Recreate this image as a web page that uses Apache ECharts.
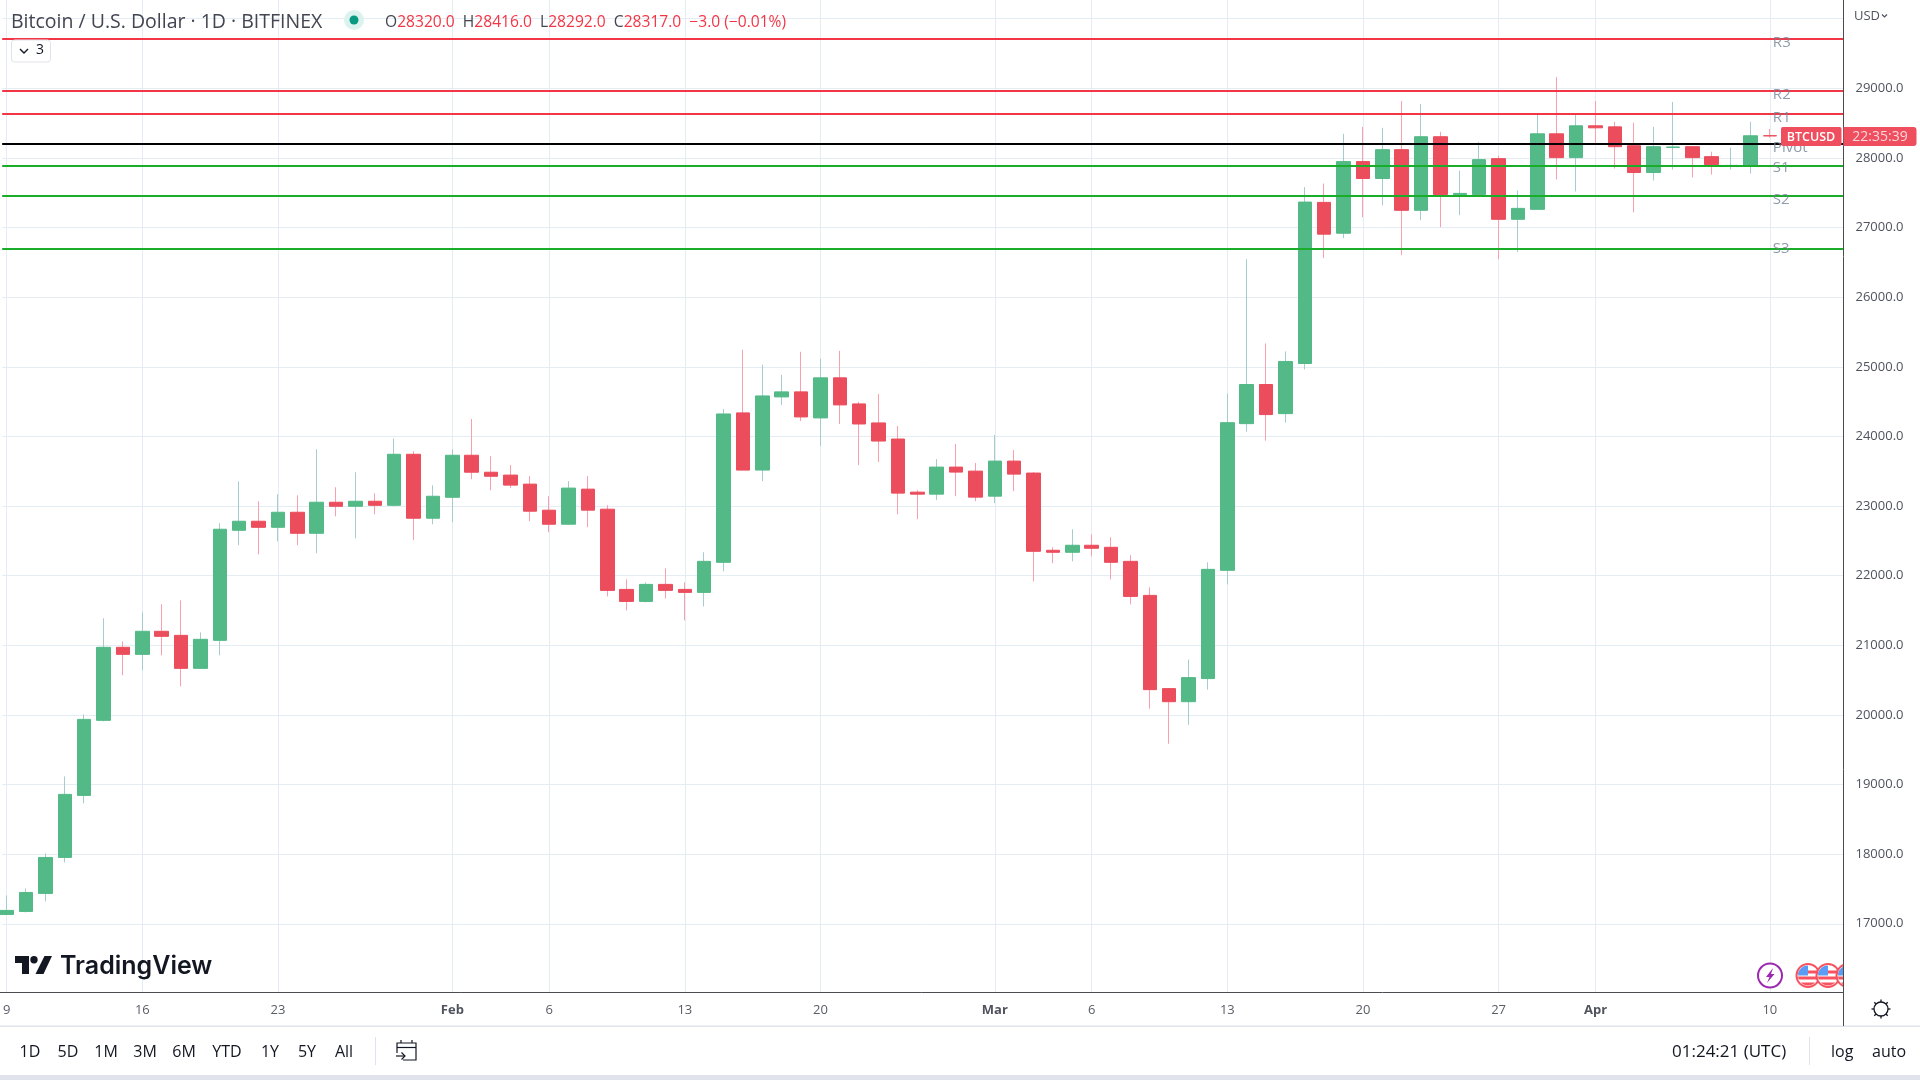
<!DOCTYPE html>
<html>
<head>
<meta charset="utf-8">
<title>BTCUSD</title>
<style>html,body{margin:0;padding:0;background:#fff;width:100%;height:100%;overflow:hidden}#c{width:1920px;height:1080px}</style>
<script src="https://cdn.jsdelivr.net/npm/echarts@6/dist/echarts.min.js"></script>
</head>
<body>
<div id="c"></div>
<script>
const dates = ['2023-01-09','2023-01-10','2023-01-11','2023-01-12','2023-01-13','2023-01-14','2023-01-15','2023-01-16','2023-01-17','2023-01-18','2023-01-19','2023-01-20','2023-01-21','2023-01-22','2023-01-23','2023-01-24','2023-01-25','2023-01-26','2023-01-27','2023-01-28','2023-01-29','2023-01-30','2023-01-31','2023-02-01','2023-02-02','2023-02-03','2023-02-04','2023-02-05','2023-02-06','2023-02-07','2023-02-08','2023-02-09','2023-02-10','2023-02-11','2023-02-12','2023-02-13','2023-02-14','2023-02-15','2023-02-16','2023-02-17','2023-02-18','2023-02-19','2023-02-20','2023-02-21','2023-02-22','2023-02-23','2023-02-24','2023-02-25','2023-02-26','2023-02-27','2023-02-28','2023-03-01','2023-03-02','2023-03-03','2023-03-04','2023-03-05','2023-03-06','2023-03-07','2023-03-08','2023-03-09','2023-03-10','2023-03-11','2023-03-12','2023-03-13','2023-03-14','2023-03-15','2023-03-16','2023-03-17','2023-03-18','2023-03-19','2023-03-20','2023-03-21','2023-03-22','2023-03-23','2023-03-24','2023-03-25','2023-03-26','2023-03-27','2023-03-28','2023-03-29','2023-03-30','2023-03-31','2023-04-01','2023-04-02','2023-04-03','2023-04-04','2023-04-05','2023-04-06','2023-04-07','2023-04-08','2023-04-09','2023-04-10'];
const opens = [17134,17177,17436,17953,18844,19922,20971,20870,21201,21143,20669,21071,22652,22782,22695,22911,22609,23055,22997,23069,23011,23744,22825,23126,23730,23486,23445,23315,22941,22739,23243,22955,21803,21630,21875,21803,21760,22192,24338,23517,24568,24640,24266,24842,24467,24194,23963,23200,23171,23560,23502,23142,23646,23474,22365,22336,22437,22408,22206,21717,20378,20190,20522,22077,24184,24746,24328,25048,27362,26919,27948,27705,28119,27248,28305,27476,27476,27990,27119,27262,28347,28005,28462,28447,28176,27791,28152,28162,28019,27890,27890,28320];
const closes = [17192,17450,17953,18859,19936,20971,20870,21201,21129,20669,21086,22667,22782,22695,22911,22609,23055,22997,23069,23011,23744,22825,23141,23730,23486,23428,23301,22926,22739,23258,22941,21789,21630,21875,21789,21760,22206,24323,23517,24582,24640,24280,24842,24453,24179,23934,23186,23171,23560,23488,23128,23646,23459,22350,22336,22437,22394,22192,21702,20363,20190,20536,22091,24198,24746,24314,25077,27366,26905,27948,27705,28119,27248,28305,27476,27491,27976,27119,27276,28347,28005,28462,28433,28162,27791,28162,28157,28005,27905,27893,28319,28317];
const lows = [17134,17163,17321,17881,18729,19908,20569,20640,20856,20410,20669,20856,22437,22307,22494,22437,22322,22853,22537,22882,22997,22509,22738,22767,23385,23227,23258,22782,22624,22739,22696,21702,21501,21616,21674,21357,21558,22062,23517,23358,24453,24222,23862,24179,23589,23632,22883,22811,23085,23142,23070,23042,23214,21918,22178,22206,22278,21947,21587,20090,19586,19859,20363,21875,24069,23939,24198,24962,26562,26848,27148,27319,26605,27105,27005,27177,27476,26548,26648,27262,27691,27519,28214,27848,27219,27676,27833,27719,27762,27833,27776,28292];
const highs = [17407,17508,18011,19117,20008,21388,21057,21474,21589,21646,21186,22753,23356,23069,23170,23155,23816,23270,23486,23184,23969,23787,23299,23816,24251,23716,23589,23430,23142,23358,23430,23013,21947,21904,22106,21904,22336,24395,25245,25029,24885,25216,25115,25230,24496,24611,24150,23229,23675,23891,23618,24021,23805,23488,22408,22667,22595,22552,22293,21832,20378,20795,22192,24616,26546,25336,25221,27582,27633,28347,28447,28433,28819,28776,28376,27819,28233,28033,27534,28619,29161,28619,28819,28519,28505,28447,28804,28165,28090,28148,28519,28416];

const tickDates = ['2023-01-09','2023-01-16','2023-01-23','2023-02-01','2023-02-06','2023-02-13','2023-02-20','2023-03-01','2023-03-06','2023-03-13','2023-03-20','2023-03-27','2023-04-01','2023-04-10'];
const tickLabels = ['9','16','23','Feb','6','13','20','Mar','6','13','20','27','Apr','10'];
const priceGrid = [17000,18000,19000,20000,21000,22000,23000,24000,25000,26000,27000,28000,29000,30000];
const priceTicks = [17000,18000,19000,20000,21000,22000,23000,24000,25000,26000,27000,28000,29000];

const pivotNames = ['R3','R2','R1','Pivot','S1','S2','S3'];
const pivotValues = [29715,28972,28637,28205,27894,27458,26696];
const pivotColors = ['#f23645','#f23645','#f23645','#000000','#1aad2a','#1aad2a','#1aad2a'];
const pivotNudge = [4,4,4,4,2,4,0];

const rangeButtons = ['1D','5D','1M','3M','6M','YTD','1Y','5Y','All'];
const rangeX = [30,68,106,145,184,227,270,307,344];

const FONT = '"Open Sans", Lato, sans-serif';
const ts = s => Date.parse(s + 'T00:00:00Z');
const DAY = 86400000;
const xMin = ts(dates[0]) - 0.235 * DAY;
const xMax = ts(dates[0]) + 94.80 * DAY;
const labelByTs = {};
tickDates.forEach((d, i) => { labelByTs[ts(d)] = tickLabels[i]; });

const wickData = dates.map((d, i) => [ts(d), opens[i], closes[i], lows[i], highs[i]]);
const bodyData = dates.map((d, i) => [ts(d), opens[i], closes[i], Math.min(opens[i], closes[i]), Math.max(opens[i], closes[i])]);

const txt = (x, y, text, extra) => ({
  type: 'text', x, y, z: 50,
  style: Object.assign({ text, fontFamily: FONT, fontSize: 15, fill: '#131722', textVerticalAlign: 'middle', textAlign: 'left' }, extra || {})
});
const ln = (x1, y1, x2, y2, color, w) => ({ type: 'line', z: 50, shape: { x1, y1, x2, y2 }, style: { stroke: color, lineWidth: w || 1 } });

function flag(cx, cy) {
  const r = 10, out = [];
  const band = (y1, y2, color) => {
    const pts = [];
    for (let k = 0; k <= 4; k++) { const y = y1 + (y2 - y1) * k / 4; pts.push([cx + Math.sqrt(Math.max(0, r * r - y * y)), cy + y]); }
    for (let k = 4; k >= 0; k--) { const y = y1 + (y2 - y1) * k / 4; pts.push([cx - Math.sqrt(Math.max(0, r * r - y * y)), cy + y]); }
    out.push({ type: 'polygon', z: 51, shape: { points: pts }, style: { fill: color } });
  };
  out.push({ type: 'circle', z: 51, shape: { cx, cy, r: 11.5 }, style: { fill: '#fff', stroke: '#f7525f', lineWidth: 2 } });
  band(-5, -2, '#f7525f');
  band(1, 4, '#f7525f');
  band(7, 10, '#f7525f');
  const arc = [];
  for (let a = 180; a <= 270; a += 10) arc.push([cx + r * Math.cos(a * Math.PI / 180), cy + r * Math.sin(a * Math.PI / 180)]);
  out.push({ type: 'polygon', z: 51, shape: { points: [[cx, cy]].concat(arc) }, style: { fill: '#5b9cf6' } });
  return out;
}

const gearTicks = [];
for (let a = 0; a < 360; a += 45) {
  const c = Math.cos(a * Math.PI / 180), s = Math.sin(a * Math.PI / 180);
  gearTicks.push(ln(1881 + 7 * c, 1009 + 7 * s, 1881 + 9.5 * c, 1009 + 9.5 * s, '#131722', 1.3));
}

const graphics = [
  // header
  txt(11, 22.5, 'Bitcoin / U.S. Dollar · 1D · BITFINEX', { fontSize: 19.5, fill: '#434651' }),
  { type: 'circle', z: 50, shape: { cx: 354, cy: 20, r: 10 }, style: { fill: '#dcf2ee' } },
  { type: 'circle', z: 51, shape: { cx: 354, cy: 20, r: 4.5 }, style: { fill: '#089981' } },
  {
    type: 'text', x: 385, y: 23, z: 50,
    style: {
      text: 'O{r|28320.0}  H{r|28416.0}  L{r|28292.0}  C{r|28317.0}  {r|−3.0 (−0.01%)}',
      fontFamily: FONT, fontSize: 15.6, fill: '#434651', textVerticalAlign: 'middle',
      rich: { r: { fill: '#f23645', fontFamily: FONT, fontSize: 15.6 } }
    }
  },
  // collapse button
  { type: 'rect', z: 50, shape: { x: 11.5, y: 40, width: 39, height: 22, r: 3 }, style: { fill: '#fff', stroke: '#e0e3eb', lineWidth: 1 } },
  { type: 'polyline', z: 51, shape: { points: [[20, 49], [24, 53], [28, 49]] }, style: { stroke: '#131722', fill: 'none', lineWidth: 1.4 } },
  txt(36, 50.5, '3', { fontSize: 14, fill: '#131722' }),
  // currency
  txt(1854, 16, 'USD', { fontSize: 13, fill: '#50535e' }),
  { type: 'polyline', z: 51, shape: { points: [[1882, 14.5], [1884.5, 17], [1887, 14.5]] }, style: { stroke: '#50535e', fill: 'none', lineWidth: 1.2 } },
  // last price tags
  { type: 'rect', z: 60, shape: { x: 1781, y: 127, width: 60.5, height: 19, r: 2 }, style: { fill: '#ee4e5e' } },
  Object.assign(txt(1811, 137, 'BTCUSD', { fontSize: 12.5, fill: '#fff', textAlign: 'center', fontWeight: 600 }), { z: 61 }),
  { type: 'rect', z: 60, shape: { x: 1843.5, y: 127, width: 73, height: 19, r: [0, 3, 3, 0] }, style: { fill: '#ee4e5e' } },
  Object.assign(txt(1880, 137, '22:35:39', { fontSize: 14, fill: '#fbd7db', textAlign: 'center' }), { z: 61 }),
  // logo
  { type: 'polygon', z: 50, shape: { points: [[15, 956], [29, 956], [29, 974], [22, 974], [22, 963], [15, 963]] }, style: { fill: '#131722' } },
  { type: 'circle', z: 50, shape: { cx: 34, cy: 959.7, r: 3.7 }, style: { fill: '#131722' } },
  { type: 'polygon', z: 50, shape: { points: [[44.5, 956], [52, 956], [43.5, 974], [35.5, 974]] }, style: { fill: '#131722' } },
  txt(60, 966.5, 'TradingView', { fontFamily: 'Inter, Roboto, sans-serif', fontSize: 25, fontWeight: 600, fill: '#131722' }),
  // event icons
  { type: 'circle', z: 50, shape: { cx: 1770, cy: 975.5, r: 12 }, style: { fill: '#fff', stroke: '#9c27b0', lineWidth: 2 } },
  { type: 'polygon', z: 51, shape: { points: [[1773, 968], [1766, 977], [1769.5, 977], [1767, 983], [1774.5, 974], [1771, 974]] }, style: { fill: '#9c27b0' } }
]
.concat(flag(1808, 975.5)).concat(flag(1828, 975.5)).concat(flag(1848, 975.5))
.concat([
  { type: 'rect', z: 52, shape: { x: 1844, y: 958, width: 30, height: 34 }, style: { fill: '#fff' } },
  // frame extras
  Object.assign(ln(1843.5, 0, 1843.5, 1026, '#4a4c50', 1), { z: 53 }),
  ln(0, 992.5, 1843.5, 992.5, '#4a4c50', 1),
  { type: 'rect', z: 50, shape: { x: 0, y: 1025.5, width: 1920, height: 1.5 }, style: { fill: '#e0e3eb' } },
  { type: 'rect', z: 50, shape: { x: 0, y: 1075, width: 1920, height: 5 }, style: { fill: '#e0e3eb' } },
  ln(375.5, 1037, 375.5, 1065, '#e0e3eb', 1),
  ln(1809.5, 1037, 1809.5, 1065, '#e0e3eb', 1),
  // gear
  { type: 'circle', z: 50, shape: { cx: 1881, cy: 1009, r: 7 }, style: { fill: '#fff', stroke: '#131722', lineWidth: 1.3 } }
])
.concat(gearTicks)
.concat(rangeButtons.map((b, i) => txt(rangeX[i], 1052, b, { fontSize: 16, textAlign: 'center', fill: '#131722' })))
.concat([
  // go-to-date icon
  { type: 'polyline', z: 50, shape: { points: [[397, 1053], [397, 1043], [416, 1043], [416, 1060], [403, 1060]] }, style: { stroke: '#131722', fill: 'none', lineWidth: 1.2 } },
  ln(397, 1047.5, 416, 1047.5, '#131722', 1.2),
  ln(401, 1040, 401, 1043, '#131722', 1.2),
  ln(412, 1040, 412, 1043, '#131722', 1.2),
  { type: 'polyline', z: 50, shape: { points: [[396, 1056], [405, 1056]] }, style: { stroke: '#131722', fill: 'none', lineWidth: 1.2 } },
  { type: 'polyline', z: 50, shape: { points: [[401.5, 1052.5], [405, 1056], [401.5, 1059.5]] }, style: { stroke: '#131722', fill: 'none', lineWidth: 1.2 } },
  txt(1672, 1052, '01:24:21 (UTC)', { fontSize: 17 }),
  txt(1831, 1052, 'log', { fontSize: 16 }),
  txt(1872, 1052, 'auto', { fontSize: 16 })
]);

const chart = echarts.init(document.getElementById('c'), null, { renderer: 'canvas', width: 1920, height: 1080 });
chart.setOption({
  animation: false,
  backgroundColor: '#ffffff',
  grid: { left: 0, top: 0, width: 1843.5, height: 992.5, show: false },
  xAxis: {
    type: 'value', min: xMin, max: xMax,
    axisLine: { show: false },
    axisTick: { show: false, customValues: tickDates.map(ts) },
    splitLine: { show: true, lineStyle: { color: '#e3edf3', width: 1 } },
    axisLabel: {
      show: true, customValues: tickDates.map(ts), margin: 11, fontFamily: FONT, fontSize: 13, color: '#5a5d68', hideOverlap: false,
      formatter: v => {
        const l = labelByTs[v];
        return /[A-Za-z]/.test(l) ? '{m|' + l + '}' : l;
      },
      rich: { m: { fontFamily: FONT, fontSize: 13, fontWeight: 700, color: '#50535e' } }
    }
  },
  yAxis: {
    type: 'value', position: 'right', min: 16013, max: 30269,
    axisLine: { show: false },
    axisTick: { show: false, customValues: priceGrid },
    splitLine: { show: true, lineStyle: { color: '#e3edf3', width: 1 } },
    axisLabel: { show: true, customValues: priceTicks, margin: 12, fontFamily: FONT, fontSize: 13, color: '#50535e', padding: [1, 0, 0, 0], formatter: v => v.toFixed(1) }
  },
  series: [
    {
      name: 'wick', type: 'candlestick', data: wickData, barWidth: 1, z: 3, silent: true,
      encode: { x: 0, y: [1, 2, 3, 4] },
      itemStyle: { color: '#a5cdcd', color0: '#f99fae', borderColor: '#a5cdcd', borderColor0: '#f99fae', borderWidth: 1 }
    },
    {
      name: 'BTCUSD', type: 'candlestick', data: bodyData, barWidth: 14, z: 4, silent: true,
      encode: { x: 0, y: [1, 2, 3, 4] },
      itemStyle: { color: '#53b987', color0: '#eb4d5c', borderColor: '#53b987', borderColor0: '#eb4d5c', borderWidth: 1 },
      markLine: {
        silent: true, symbol: 'none', label: { show: false }, z: 6, animation: false,
        data: pivotValues.map((v, i) => [
          { coord: [xMin, v], lineStyle: { color: pivotColors[i], width: 2, type: 'solid' } },
          { coord: [xMax, v] }
        ])
      }
    },
    {
      name: 'pivot labels', type: 'scatter', symbolSize: 0, z: 7, silent: true,
      data: pivotValues.map((v, i) => ({ value: [ts(dates[dates.length - 1]), v], name: pivotNames[i], label: { offset: [3, pivotNudge[i]] } })),
      label: { show: true, position: 'right', distance: 0, formatter: '{b}', fontFamily: FONT, fontSize: 15, color: '#738396' }
    }
  ],
  graphic: { elements: graphics }
});
</script>
</body>
</html>
